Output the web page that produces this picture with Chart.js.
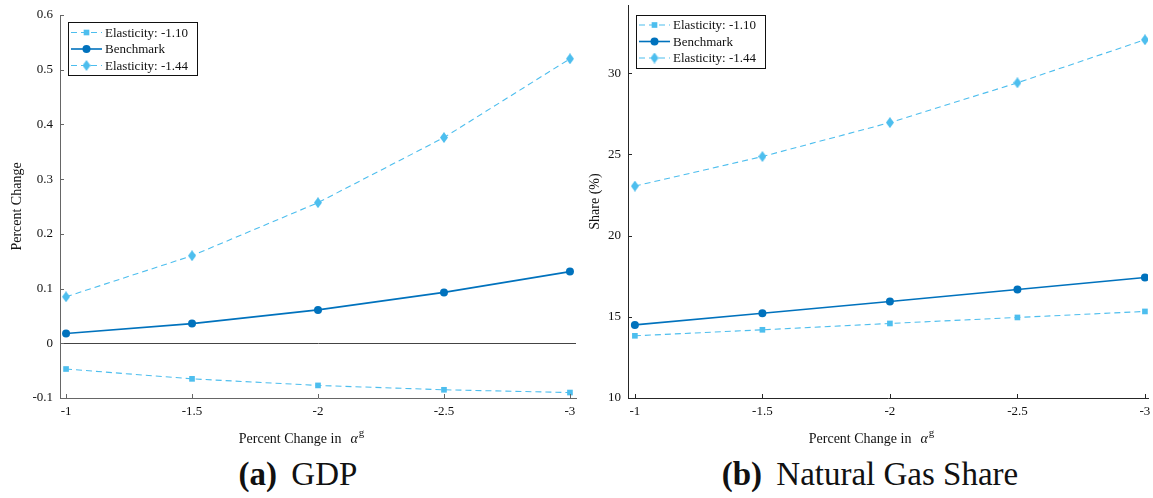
<!DOCTYPE html>
<html>
<head>
<meta charset="utf-8">
<script src="https://cdn.jsdelivr.net/npm/chart.js@4.4.0/dist/chart.umd.min.js"></script>
<style>
  body { margin: 0; background: #fff; width: 1153px; height: 498px; overflow: hidden; font-family: "Liberation Serif", serif; }
  canvas { position: absolute; top: 0; }
  .cap { position: absolute; top: 456px; font-size: 33px; color: #111; white-space: nowrap; transform: translateX(-50%); }
  .cap b { margin-right: 6px; }
</style>
</head>
<body>
<canvas id="gdpChart" width="585" height="450" style="left:0"></canvas>
<canvas id="shareChart" width="568" height="450" style="left:585px"></canvas>
<div class="cap" style="left:298px"><b>(a)</b> GDP</div>
<div class="cap" style="left:870px"><b>(b)</b> Natural Gas Share</div>
<script>
// values
var alphaChange = [-1, -1.5, -2, -2.5, -3];
var xTickLabels = ["-1", "-1.5", "-2", "-2.5", "-3"];
var seriesLabels = ["Elasticity: -1.10", "Benchmark", "Elasticity: -1.44"];

var gdpElast110 = [-0.047, -0.065, -0.077, -0.085, -0.090];
var gdpBenchmark = [0.018, 0.036, 0.061, 0.093, 0.131];
var gdpElast144 = [0.085, 0.160, 0.257, 0.376, 0.520];
var gdpYTicks = [-0.1, 0, 0.1, 0.2, 0.3, 0.4, 0.5, 0.6];
var gdpYLabels = ["-0.1", "0", "0.1", "0.2", "0.3", "0.4", "0.5", "0.6"];

var shareElast110 = [13.83, 14.20, 14.59, 14.96, 15.33];
var shareBenchmark = [14.50, 15.22, 15.94, 16.68, 17.42];
var shareElast144 = [23.05, 24.87, 26.96, 29.41, 32.06];
var shareYTicks = [10, 15, 20, 25, 30];
var shareYLabels = ["10", "15", "20", "25", "30"];

var lightBlue = "#4DBEEE";
var darkBlue = "#0072BD";
var seriesColors = [lightBlue, darkBlue, lightBlue];

// diamond marker
var diamond = document.createElement("canvas");
diamond.width = 8; diamond.height = 11;
var dctx = diamond.getContext("2d");
dctx.fillStyle = lightBlue;
dctx.beginPath();
dctx.moveTo(4, 0); dctx.lineTo(8, 5.5); dctx.lineTo(4, 11); dctx.lineTo(0, 5.5);
dctx.closePath(); dctx.fill();

var markers = ["rect", "circle", diamond];
var markerRadius = [4, 4, 5];

// inward tick marks on left and bottom axes
var inwardTicks = {
  id: "inwardTicks",
  afterDatasetsDraw: function (chart, args, opts) {
    var ctx = chart.ctx, xs = chart.scales.x, ys = chart.scales.y;
    ctx.save();
    ctx.strokeStyle = opts.color;
    ctx.lineWidth = 1;
    ctx.beginPath();
    xs.ticks.forEach(function (t) {
      var px = Math.round(xs.getPixelForValue(t.value)) + 0.5;
      ctx.moveTo(px, ys.bottom); ctx.lineTo(px, ys.bottom - 4);
    });
    ys.ticks.forEach(function (t) {
      var py = Math.round(ys.getPixelForValue(t.value)) + 0.5;
      ctx.moveTo(xs.left, py); ctx.lineTo(xs.left + 4, py);
    });
    ctx.stroke();
    ctx.restore();
  }
};

// x axis title with alpha^g
var xTitle = {
  id: "xTitle",
  afterDraw: function (chart) {
    var ctx = chart.ctx, ca = chart.chartArea;
    ctx.save();
    ctx.fillStyle = "#111";
    ctx.textBaseline = "alphabetic";
    ctx.font = "14px 'Liberation Serif'";
    var t1 = "Percent Change in";
    var w1 = ctx.measureText(t1).width;
    ctx.font = "italic 14px 'Liberation Serif'";
    var wa = ctx.measureText("\u03b1").width;
    ctx.font = "11px 'Liberation Serif'";
    var wg = ctx.measureText("g").width;
    var gap = 9;
    var total = w1 + gap + wa + wg;
    var x = (ca.left + ca.right) / 2 - 17 - total / 2;
    var y = 443;
    ctx.font = "14px 'Liberation Serif'";
    ctx.fillText(t1, x, y);
    ctx.font = "italic 14px 'Liberation Serif'";
    ctx.fillText("\u03b1", x + w1 + gap, y);
    ctx.font = "11px 'Liberation Serif'";
    ctx.fillText("g", x + w1 + gap + wa + 1, y - 7);
    ctx.restore();
  }
};

// boxed legend with line + marker samples
var boxLegend = {
  id: "boxLegend",
  afterDraw: function (chart, args, opts) {
    var ctx = chart.ctx, ca = chart.chartArea;
    var x0 = ca.left + 8, y0 = ca.top + opts.dy;
    ctx.save();
    ctx.fillStyle = "#fff";
    ctx.fillRect(x0, y0, 129, 53);
    ctx.strokeStyle = "#111";
    ctx.lineWidth = 1;
    ctx.strokeRect(Math.round(x0) + 0.5, Math.round(y0) + 0.5, 129, 53);
    chart.data.datasets.forEach(function (ds, i) {
      var yy = y0 + 10.5 + i * 16.5;
      ctx.strokeStyle = ds.borderColor;
      ctx.fillStyle = ds.borderColor;
      ctx.lineWidth = ds.borderWidth;
      ctx.setLineDash(ds.borderDash);
      ctx.beginPath();
      ctx.moveTo(x0 + 3, yy); ctx.lineTo(x0 + 34, yy);
      ctx.stroke();
      ctx.setLineDash([]);
      Chart.helpers.drawPoint(ctx, { pointStyle: ds.pointStyle, radius: ds.pointRadius, borderWidth: 0, rotation: 0 }, x0 + 18.5, yy);
      ctx.fillStyle = "#111";
      ctx.font = "13px 'Liberation Serif'";
      ctx.textBaseline = "middle";
      ctx.fillText(ds.label, x0 + 37, yy + 1);
    });
    ctx.restore();
  }
};

function makeChart(id, series, yTicks, yLabels, cfg) {
  var datasets = series.map(function (vals, i) {
    return {
      label: seriesLabels[i],
      data: alphaChange.map(function (a, j) { return { x: a, y: vals[j] }; }),
      borderColor: seriesColors[i],
      backgroundColor: seriesColors[i],
      borderWidth: i === 1 ? 1.6 : 1.1,
      borderDash: i === 1 ? [] : [6, 4],
      pointStyle: markers[i],
      pointRadius: markerRadius[i],
      pointBorderWidth: 0,
      tension: 0
    };
  });
  var tickFont = { family: "Liberation Serif", size: 13 };
  return new Chart(document.getElementById(id).getContext("2d"), {
    type: "line",
    data: { datasets: datasets },
    plugins: [inwardTicks, xTitle, boxLegend],
    options: {
      responsive: false,
      animation: false,
      events: [],
      layout: { padding: { left: 0, right: cfg.padRight, top: cfg.padTop, bottom: 0 } },
      plugins: {
        legend: { display: false },
        tooltip: { enabled: false },
        inwardTicks: { color: cfg.axisColor },
        boxLegend: { dy: cfg.legendDy }
      },
      scales: {
        x: {
          type: "linear",
          reverse: true,
          min: cfg.xMin,
          max: cfg.xMax,
          afterBuildTicks: function (s) { s.ticks = alphaChange.map(function (v) { return { value: v }; }); },
          afterFit: function (s) { s.height = 52; s.paddingLeft = 0; s.paddingRight = 0; },
          ticks: {
            callback: function (v) { return xTickLabels[alphaChange.indexOf(v)]; },
            font: tickFont, color: "#111", padding: 6, maxRotation: 0, autoSkip: false
          },
          grid: { drawTicks: false, color: "transparent" },
          border: { color: cfg.axisColor, width: 1 }
        },
        y: {
          type: "linear",
          min: cfg.yMin,
          max: cfg.yMax,
          afterBuildTicks: function (s) { s.ticks = yTicks.map(function (v) { return { value: v }; }); },
          afterFit: function (s) { s.width = cfg.yWidth; s.paddingTop = 0; s.paddingBottom = 0; },
          ticks: {
            callback: function (v) { return yLabels[yTicks.indexOf(v)]; },
            font: tickFont, color: "#111", padding: 7
          },
          grid: {
            drawTicks: false,
            lineWidth: 1,
            color: function (c) { return cfg.zeroLine && c.tick && c.tick.value === 0 ? "#444" : "transparent"; }
          },
          border: { color: cfg.axisColor, width: 1 },
          title: {
            display: true, text: cfg.yTitle, color: "#111",
            font: { family: "Liberation Serif", size: 14 },
            padding: { top: cfg.titlePad, bottom: 0 }
          }
        }
      }
    }
  });
}

makeChart("gdpChart", [gdpElast110, gdpBenchmark, gdpElast144], gdpYTicks, gdpYLabels, {
  xMin: -3.024, xMax: -0.976, yMin: -0.1, yMax: 0.6,
  padRight: 9, padTop: 15, yWidth: 60, titlePad: 9,
  axisColor: "#666", zeroLine: true, legendDy: 7, yTitle: "Percent Change"
});

makeChart("shareChart", [shareElast110, shareBenchmark, shareElast144], shareYTicks, shareYLabels, {
  xMin: -3.012, xMax: -0.973, yMin: 10, yMax: 34.2,
  padRight: 3, padTop: 5, yWidth: 43, titlePad: 2,
  axisColor: "#262626", zeroLine: false, legendDy: 9.5, yTitle: "Share (%)"
});
</script>
</body>
</html>
